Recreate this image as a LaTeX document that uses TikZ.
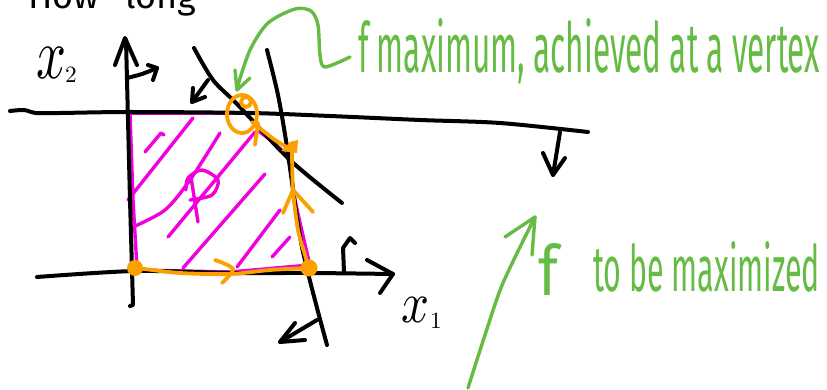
\documentclass[tikz,border=0pt]{standalone}
\usepackage{fontspec}
\newfontfamily\hand{Fira Sans}
\definecolor{mag}{RGB}{240,0,220}
\definecolor{org}{RGB}{250,160,0}
\definecolor{grn}{RGB}{102,187,68}
\begin{document}
\begin{tikzpicture}[x=1pt,y=-1pt,
  ink/.style={line width=4pt,line cap=round,line join=round},
  blk/.style={ink,draw=black},
  pink/.style={ink,draw=mag,line width=3.4pt},
  orng/.style={ink,draw=org,line width=3.8pt},
  gr/.style={ink,draw=grn,line width=3.4pt},
  lbl/.style={anchor=base west,inner sep=0pt,outer sep=0pt}]
\useasboundingbox (0,0) rectangle (827,390);
\clip (0,0) rectangle (827,390);
\fill[white] (0,0) rectangle (827,390);

% cut-off title
\node[lbl,font=\hand\fontsize{36}{36}\selectfont] (how) at (28,9) {How};
\node[lbl,font=\hand\fontsize{36}{36}\selectfont] (long) at (125,9) {long};

% ---------- magenta region P ----------
\draw[pink] (130,113) -- (240,113);
\draw[pink] (130,113) -- (133,200) -- (137,268);
\draw[pink] (137,270) -- (230,272) -- (310,265);
\draw[pink] plot[smooth] coordinates {(257,130) (287,157) (295,200) (307,253) (310,265)};
% hatching
\draw[pink] (145,152) -- (161,133) -- (164,135);
\draw[pink] (128,200) -- (193,118);
\draw[pink] plot[smooth] coordinates {(133,227) (165,210) (190,180) (220,133)};
\draw[pink] (168,237) -- (255,132);
\draw[pink] (183,268) -- (265,174);
\draw[pink] (237,267) -- (280,210);
\draw[pink] (272,257) -- (290,237);
% P
\draw[pink] (191,177) -- (198,222);
\draw[pink] plot[smooth] coordinates {(186,190) (188,178) (202,170) (218,180) (212,195) (190,200)};

% ---------- black lines ----------
% x2 axis
\draw[blk] (130,306) -- (133,305) -- (130,200) -- (126,40);
\draw[blk] (115,65) -- (125,38) -- (137,65);
\draw[blk] plot[smooth] coordinates {(127,78) (142,74) (157,68)};
\draw[blk] (148,65) -- (157,68) -- (153,80);
% top constraint line
\draw[blk] plot[smooth] coordinates {(10,111) (24,110) (36,113) (60,113) (130,112) (250,113) (330,116) (420,120) (500,123) (588,132)};
\draw[blk] (560,132) -- (553,175);
\draw[blk] (543,153) -- (553,175) -- (565,158);
% diagonal constraint line
\draw[blk] plot[smooth] coordinates {(194,48) (213,80) (238,105) (290,160) (342,203)};
\draw[blk] (208,80) -- (192,102);
\draw[blk] (193,88) -- (192,102) -- (205,97);
% right constraint line
\draw[blk] plot[smooth] coordinates {(267,50) (278,95) (287,147) (302,247) (327,345)};
\draw[blk] (317,320) -- (280,342);
\draw[blk] (295,323) -- (280,342) -- (305,340);
% x1 axis
\draw[blk] plot[smooth] coordinates {(37,277) (135,271) (230,273) (310,273) (393,274)};
\draw[blk] (367,260) -- (393,274) -- (380,293);
\draw[blk] (344,272) -- (343,248) -- (350,238) -- (355,243);

% axis labels
\node[lbl] (x2) at (36,79) {\resizebox{30pt}{31pt}{$x$}};
\node[lbl] (x2i) at (65,83) {\resizebox{!}{15pt}{$2$}};
\node[lbl] (x1) at (401,322) {\resizebox{28pt}{25pt}{$x$}};
\node[lbl] (x1i) at (430,328) {\resizebox{!}{15pt}{$1$}};

% ---------- orange path of vertices ----------
\draw[orng] (242,114) ellipse [x radius=15pt, y radius=19pt];
\draw[orng] (246,102) circle (5pt);
\draw[orng] (258,123) -- (255,145);
\draw[orng] plot[smooth] coordinates {(252,122) (275,140) (292,150)};
\fill[org] (281,151) -- (290,142) -- (298,140) -- (297,153) -- cycle;
\draw[orng] plot[smooth] coordinates {(292,150) (293,190) (298,230) (305,255) (308,266)};
\draw[orng] (283,213) -- (293,190) -- (313,212);
\draw[orng] plot[smooth] coordinates {(137,268) (180,273) (230,274) (270,270) (308,268)};
\draw[orng] plot[smooth] coordinates {(215,260) (233,269) (222,283)};
\fill[org] (135,268) circle (8pt);
\fill[org] (309,268) circle (8.5pt);

% ---------- green annotations ----------
\draw[gr] plot[smooth] coordinates {(350,57) (325,67) (320,55) (318,25) (311,11) (295,9) (268,23) (250,50) (237,88)};
\draw[gr] (235,70) -- (237,90) -- (250,78);
\node[lbl,text=grn] (t1) at (358,73) {\resizebox{462pt}{54pt}{\hand f maximum, achieved at a vertex}};

\draw[gr] plot[smooth] coordinates {(468,388) (485,335) (503,283) (535,217)};
\draw[gr] (505,237) -- (535,217) -- (532,255);
\node[lbl,text=grn] (tf) at (538,295) {\resizebox{20pt}{52pt}{\hand f}};
\node[lbl,text=grn] (t2) at (593,291) {\resizebox{227pt}{50pt}{\hand to be maximized}};
\end{tikzpicture}
\end{document}
